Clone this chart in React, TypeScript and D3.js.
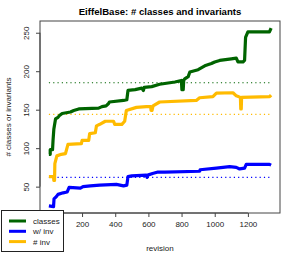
import React, { useEffect, useRef } from "react";
import * as d3 from "d3";

// revision / value pairs
const classRev = [0, 8, 8, 22, 25, 30, 40, 55, 62, 80, 130, 150, 180, 300, 320, 345, 360, 365, 450, 470, 477, 520, 560, 570, 575, 620, 668, 760, 799, 802, 810, 813, 819, 840, 850, 900, 940, 980, 1000, 1030, 1100, 1130, 1140, 1170, 1180, 1186, 1200, 1330, 1340];
const classVal = [92, 92, 98, 98, 110, 125, 138, 140, 142, 145, 147, 149, 151, 152, 154, 155, 158, 160, 162, 163, 175, 176, 178, 175, 179, 180, 183, 186, 188, 176, 176, 188, 190, 193, 199, 202, 207, 210, 212, 214, 216, 217, 212, 212, 214, 244, 251, 251, 256];

const withInvRev = [0, 28, 31, 45, 55, 86, 110, 122, 190, 206, 250, 307, 407, 450, 470, 477, 500, 587, 592, 596, 625, 658, 700, 909, 912, 1010, 1090, 1130, 1150, 1180, 1190, 1330, 1340];
const withInvVal = [25, 24, 34, 37, 40, 42, 43, 49, 48, 50, 51, 52, 53, 51, 52, 63, 64, 65, 62, 65, 67, 69, 69, 70, 72, 74, 76, 75, 73, 74, 79, 79, 78];

const invRev = [0, 28, 30, 34, 36, 48, 75, 100, 115, 196, 200, 240, 246, 280, 287, 307, 340, 390, 397, 440, 457, 467, 528, 588, 614, 616, 622, 628, 668, 889, 909, 989, 1010, 1110, 1130, 1155, 1157, 1160, 1162, 1331, 1340];
const invVal = [63, 63, 58, 58, 80, 90, 92, 93, 105, 106, 110, 110, 119, 120, 129, 131, 135, 135, 131, 131, 135, 149, 153, 154, 154, 149, 149, 155, 160, 162, 165.5, 167, 171.5, 172, 168, 166, 151, 151, 166, 167, 169];

const meanNames = ["classes", "w/ inv", "# inv"];
const meanValues = [185, 62, 144];
const seriesColors = ["#006400", "#0000ff", "#ffbb00"];
const xTicks = [200, 400, 600, 800, 1000, 1200];
const yTicks = [50, 100, 150, 200, 250];

export default function App() {
    const ref = useRef<SVGSVGElement>(null);

    useEffect(() => {
        const svg = d3.select(ref.current);
        svg.selectAll("*").remove();
        const font = "Liberation Sans, Arial, sans-serif";
        const left = 40, right = 280, top = 21, bottom = 213;

        const x = d3.scaleLinear().domain([-53.6, 1393.6]).range([left, right]);
        const y = d3.scaleLinear().domain([15.76, 265.24]).range([bottom, top]);

        const series = [
            { rev: classRev, val: classVal },
            { rev: withInvRev, val: withInvVal },
            { rev: invRev, val: invVal },
        ];

        // mean lines (dotted)
        meanValues.forEach((m, i) => {
            svg.append("line")
                .attr("x1", x(0)).attr("x2", x(1340))
                .attr("y1", y(m)).attr("y2", y(m))
                .attr("stroke", seriesColors[i])
                .attr("stroke-width", 1.2)
                .attr("stroke-dasharray", "1.2,3.1");
        });

        const line = d3.line<[number, number]>()
            .x(d => x(d[0]))
            .y(d => y(d[1]));

        series.forEach((s, i) => {
            const pts = s.rev.map((r, j) => [r, s.val[j]] as [number, number]);
            svg.append("path")
                .attr("d", line(pts))
                .attr("fill", "none")
                .attr("stroke", seriesColors[i])
                .attr("stroke-width", 3.2)
                .attr("stroke-linejoin", "round");
        });

        // box
        svg.append("rect")
            .attr("x", left).attr("y", top)
            .attr("width", right - left).attr("height", bottom - top)
            .attr("fill", "none").attr("stroke", "#444").attr("stroke-width", 1);

        // x axis
        const xa = svg.append("g").attr("transform", `translate(0,${bottom})`)
            .call(d3.axisBottom(x).tickValues(xTicks).tickFormat(d3.format("d")).tickSize(4).tickPadding(4));
        xa.select(".domain").attr("d", `M${x(0)},0H${x(1200)}`).attr("stroke", "#444");
        xa.selectAll(".tick line").attr("stroke", "#444");
        xa.selectAll("text").attr("font-family", font).attr("font-size", 8).attr("fill", "#222");

        // y axis
        const ya = svg.append("g").attr("transform", `translate(${left},0)`)
            .call(d3.axisLeft(y).tickValues(yTicks).tickSize(4));
        ya.select(".domain").attr("d", `M0,${y(50)}V${y(250)}`).attr("stroke", "#444");
        ya.selectAll(".tick line").attr("stroke", "#444");
        ya.selectAll("text")
            .attr("font-family", font).attr("font-size", 8).attr("fill", "#222")
            .attr("x", 0).attr("dy", 0)
            .attr("text-anchor", "middle")
            .attr("transform", "translate(-11,0) rotate(-90)");

        // titles
        svg.append("text")
            .attr("x", (left + right) / 2).attr("y", 15)
            .attr("text-anchor", "middle")
            .attr("font-family", font).attr("font-size", 9.6).attr("font-weight", "bold")
            .text("EiffelBase: # classes and invariants");

        svg.append("text")
            .attr("x", (left + right) / 2).attr("y", 251)
            .attr("text-anchor", "middle")
            .attr("font-family", font).attr("font-size", 8).attr("fill", "#222")
            .text("revision");

        svg.append("text")
            .attr("transform", `translate(11,${(top + bottom) / 2}) rotate(-90)`)
            .attr("text-anchor", "middle")
            .attr("font-family", font).attr("font-size", 8).attr("fill", "#222")
            .text("# classes or invariants");

        // legend
        const lg = svg.append("g");
        lg.append("rect")
            .attr("x", 1.5).attr("y", 210.5).attr("width", 62).attr("height", 41)
            .attr("fill", "white").attr("stroke", "#222");
        meanNames.forEach((name, i) => {
            const ly = 221 + i * 10.3;
            lg.append("line")
                .attr("x1", 9).attr("x2", 26).attr("y1", ly).attr("y2", ly)
                .attr("stroke", seriesColors[i]).attr("stroke-width", 3);
            lg.append("text")
                .attr("x", 33).attr("y", ly + 3)
                .attr("font-family", font).attr("font-size", 8).attr("fill", "#222")
                .text(name);
        });
    }, []);

    return (
        <svg ref={ref} width={294} height={254}
            style={{ position: "absolute", left: 0, top: 0, background: "white" }} />
    );
}
